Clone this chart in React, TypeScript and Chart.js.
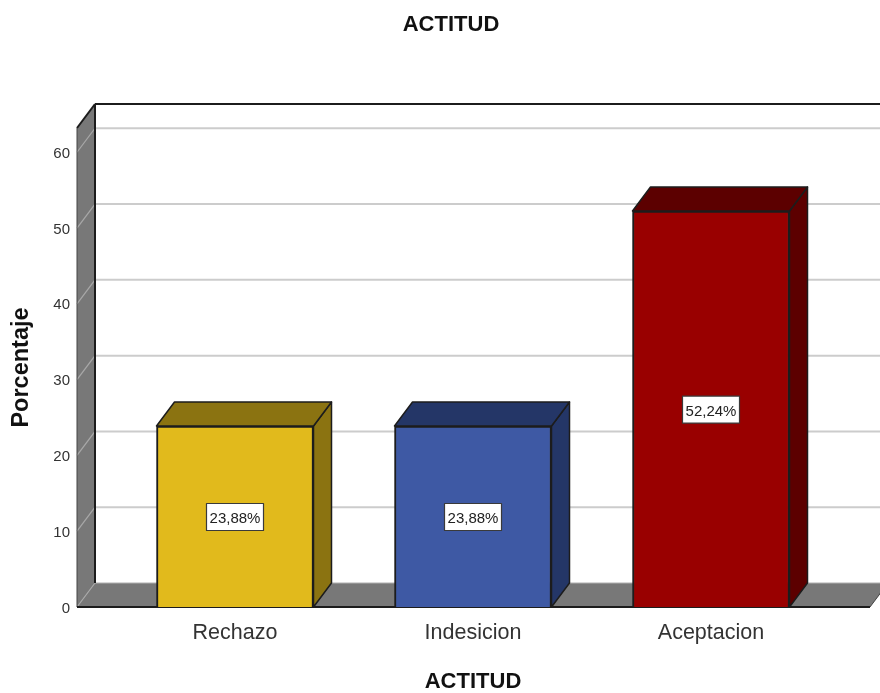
import React, { useEffect, useRef } from "react";
import { Chart, registerables } from "chart.js";

Chart.register(...registerables);

const categories = ["Rechazo", "Indesicion", "Aceptacion"];
const percentages = [23.88, 23.88, 52.24];
const valueLabels = ["23,88%", "23,88%", "52,24%"];
const frontColors = ["#E1BA1C", "#3E59A4", "#990000"];
const shadeColors = ["#8B7311", "#243667", "#5C0000"];
const chartTitle = "ACTITUD";
const xTitle = "ACTITUD";
const yTitle = "Porcentaje";
const yTop = 63.2;
const yStep = 10;

const FONT = '"Liberation Sans", Arial, sans-serif';
const DX = 18;
const DY = 24;
const WALL = "#787878";
const LINE = "#1c1c1c";

function poly(ctx: CanvasRenderingContext2D, pts: number[][], fill: string | null, stroke: string | null, w = 1.5) {
  ctx.beginPath();
  pts.forEach((p, i) => (i ? ctx.lineTo(p[0], p[1]) : ctx.moveTo(p[0], p[1])));
  ctx.closePath();
  if (fill) {
    ctx.fillStyle = fill;
    ctx.fill();
  }
  if (stroke) {
    ctx.strokeStyle = stroke;
    ctx.lineWidth = w;
    ctx.lineJoin = "round";
    ctx.stroke();
  }
}

function seg(ctx: CanvasRenderingContext2D, x1: number, y1: number, x2: number, y2: number, c: string, w: number) {
  ctx.beginPath();
  ctx.moveTo(x1, y1);
  ctx.lineTo(x2, y2);
  ctx.strokeStyle = c;
  ctx.lineWidth = w;
  ctx.stroke();
}

const frame3d = {
  id: "frame3d",
  afterLayout(chart: any) {
    // The original title is centred a little to the right of the page centre.
    chart.titleBlock.left = 22;
    chart.titleBlock.right = 880;
  },
  beforeDatasetsDraw(chart: any) {
    const { ctx, chartArea, scales } = chart;
    const y = scales.y;
    const bottom = chartArea.bottom;
    const top = chartArea.top;
    const fl = chartArea.left - 39;
    const fr = chartArea.right + 40;
    const bl = fl + DX;
    const br = fr + DX;
    ctx.save();
    poly(ctx, [[fl, top], [bl, top - DY], [bl, bottom - DY], [fl, bottom]], WALL, null);
    poly(ctx, [[fl, bottom], [bl, bottom - DY], [br, bottom - DY], [fr, bottom]], WALL, null);
    y.ticks.forEach((t: any) => {
      const p = y.getPixelForValue(t.value);
      seg(ctx, fl, p, bl, p - DY, "#a8a8a8", 1.2);
      if (t.value !== 0) seg(ctx, bl, p - DY, 880, p - DY, "#cccccc", 2);
    });
    seg(ctx, bl, bottom - DY, br, bottom - DY, "#b0b0b0", 1.2);
    seg(ctx, bl, top - DY, 880, top - DY, LINE, 2);
    seg(ctx, bl, top - DY, bl, bottom - DY, LINE, 2);
    seg(ctx, fl, top, bl, top - DY, LINE, 2);
    seg(ctx, fl, top, fl, bottom, "#444444", 1);
    seg(ctx, fl, bottom, fr, bottom, LINE, 2);
    seg(ctx, fr, bottom, br, bottom - DY, "#444444", 1);
    ctx.restore();
  },
  afterDatasetsDraw(chart: any) {
    const { ctx } = chart;
    const meta = chart.getDatasetMeta(0);
    ctx.save();
    meta.data.forEach((bar: any, i: number) => {
      const p = bar.getProps(["x", "y", "base", "width"], true);
      const l = p.x - p.width / 2;
      const r = p.x + p.width / 2;
      poly(ctx, [[r, p.y], [r + DX, p.y - DY], [r + DX, p.base - DY], [r, p.base]], shadeColors[i], LINE);
      poly(ctx, [[l, p.y], [l + DX, p.y - DY], [r + DX, p.y - DY], [r, p.y]], shadeColors[i], LINE);
    });
    ctx.font = `15px ${FONT}`;
    ctx.textAlign = "center";
    ctx.textBaseline = "middle";
    meta.data.forEach((bar: any, i: number) => {
      const p = bar.getProps(["x", "y", "base"], true);
      const cy = (p.y + p.base) / 2 + 0.5;
      const w = 57;
      const h = 27;
      ctx.fillStyle = "#ffffff";
      ctx.fillRect(p.x - w / 2, cy - h / 2, w, h);
      ctx.strokeStyle = "#3a3a3a";
      ctx.lineWidth = 1.2;
      ctx.strokeRect(p.x - w / 2, cy - h / 2, w, h);
      ctx.fillStyle = "#222222";
      ctx.fillText(valueLabels[i], p.x, cy + 2);
    });
    ctx.restore();
  },
};

export default function App() {
  const ref = useRef<HTMLCanvasElement | null>(null);
  useEffect(() => {
    document.body.style.margin = "0";
    const chart = new Chart(ref.current as HTMLCanvasElement, {
      type: "bar",
      data: {
        labels: categories,
        datasets: [
          {
            label: yTitle,
            data: percentages,
            backgroundColor: frontColors,
            borderColor: LINE,
            borderWidth: 2,
            barThickness: 157,
          },
        ],
      },
      options: {
        responsive: false,
        animation: false,
        layout: { padding: { left: 0, right: 50, top: 0, bottom: 0 } },
        plugins: {
          legend: { display: false },
          tooltip: { enabled: false },
          title: {
            display: true,
            text: chartTitle,
            color: "#111111",
            font: { family: FONT, size: 22, weight: "bold", lineHeight: 1.2 },
            padding: { top: 12, bottom: 89.6 },
          },
        },
        scales: {
          x: {
            type: "category",
            afterFit: (s: any) => {
              s.height = 86;
            },
            grid: { display: false, drawTicks: false },
            border: { display: false },
            ticks: { color: "#333333", padding: 13, maxRotation: 0, font: { family: FONT, size: 21.5 } },
            title: {
              display: true,
              text: xTitle,
              color: "#111111",
              font: { family: FONT, size: 22, weight: "bold", lineHeight: 1 },
              padding: 0,
            },
          },
          y: {
            type: "linear",
            min: 0,
            max: yTop,
            afterBuildTicks: (s: any) => {
              s.ticks = s.ticks.filter((t: any) => t.value % yStep === 0);
            },
            afterFit: (s: any) => {
              s.width = 116;
            },
            grid: { display: false, drawTicks: false },
            border: { display: false },
            ticks: { stepSize: yStep, color: "#333333", padding: 46, labelOffset: 1.5, font: { family: FONT, size: 15 } },
            title: {
              display: true,
              text: yTitle,
              color: "#111111",
              font: { family: FONT, size: 23.5, weight: "bold", lineHeight: 1 },
              padding: { top: 10, bottom: 0 },
            },
          },
        },
      },
      plugins: [frame3d],
    } as any);
    return () => chart.destroy();
  }, []);
  return <canvas ref={ref} width={880} height={693} style={{ display: "block", filter: "blur(0.35px)" }} />;
}
